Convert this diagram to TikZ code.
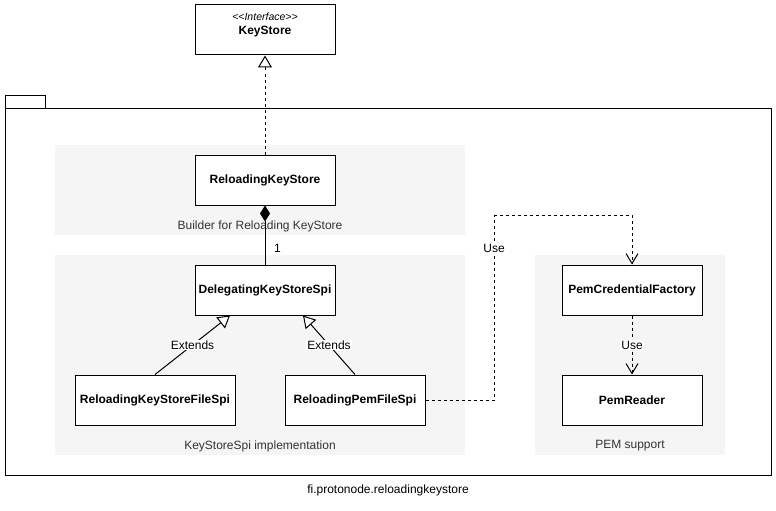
\documentclass[tikz,border=0pt]{standalone}
\usepackage{fontspec}
\setmainfont{Liberation Sans}
\usetikzlibrary{arrows.meta}
\definecolor{grpbg}{HTML}{F5F5F5}
\definecolor{grptext}{HTML}{333333}

\begin{document}
\begin{tikzpicture}[x=1pt, y=-1pt, line width=1pt, font=\fontsize{12}{14}\selectfont,
        cls/.style = {draw, fill=white, minimum width=140pt, minimum height=50pt, inner sep=0pt, font=\fontsize{12}{14}\selectfont\bfseries},
        grp/.style = {fill=grpbg, draw=none},
        grplabel/.style = {text=grptext},
        lbl/.style = {fill=white, inner sep=1pt},
        dashline/.style = {dash pattern=on 3pt off 3pt},
        realize/.style = {-{Triangle[open, fill=white, length=12pt, width=14pt]}},
        use/.style = {-{Straight Barb[length=10pt, width=12pt]}}]
        \useasboundingbox (0,0) rectangle (776,511);
        % package
        \draw (5,95) rectangle (45,108);
        \draw (5,108) rectangle (771,475);
        \node (pkg) at (388,490) {fi.protonode.reloadingkeystore};
        % groups
        \fill[grp] (55,145) rectangle (465,235);
        \fill[grp] (55,255) rectangle (465,455);
        \fill[grp] (535,255) rectangle (725,455);
        \node[grplabel] (g1) at (260,226) {Builder for Reloading KeyStore};
        \node[grplabel] (g2) at (260,446) {KeyStoreSpi implementation};
        \node[grplabel] (g3) at (630,446) {PEM support};
        % classes
        \node[cls] (ks) at (265,30) {};
        \node[align=center, anchor=north] (kstext) at (265,9) {\fontsize{10.5}{14}\selectfont\itshape {<}{<}Interface{>}{>}\\\fontsize{12}{14}\selectfont\textbf{KeyStore}};
        \node[cls] (rks) at (265,180) {ReloadingKeyStore};
        \node[cls] (dks) at (265,290) {DelegatingKeyStoreSpi};
        \node[cls, minimum width=160pt] (fs) at (155,400) {ReloadingKeyStoreFileSpi};
        \node[cls] (pfs) at (355,400) {ReloadingPemFileSpi};
        \node[cls] (pcf) at (632,290) {PemCredentialFactory};
        \node[cls] (pr) at (632,400) {PemReader};
        % relations
        \coordinate (c1) at (494,215);
        \draw[dashline, realize] (rks) -- (ks);
        \draw[{Diamond[length=16pt, width=10pt]}-] (rks) -- node[pos=0.72, right=8.5pt, inner sep=0pt] {1} (dks);
        \draw[realize] (fs.north) -- node[lbl] {Extends} ([xshift=-35pt]dks.south);
        \draw[realize] (pfs.north) -- node[lbl] {Extends} ([xshift=38pt]dks.south);
        \draw[dashline] (pfs.east) -| node[pos=0.91, lbl] {Use} (c1);
        \draw[dashline, use] (c1) -| (pcf.north);
        \draw[dashline, use] (pcf) -- node[lbl] {Use} (pr);
    \end{tikzpicture}
\end{document}
